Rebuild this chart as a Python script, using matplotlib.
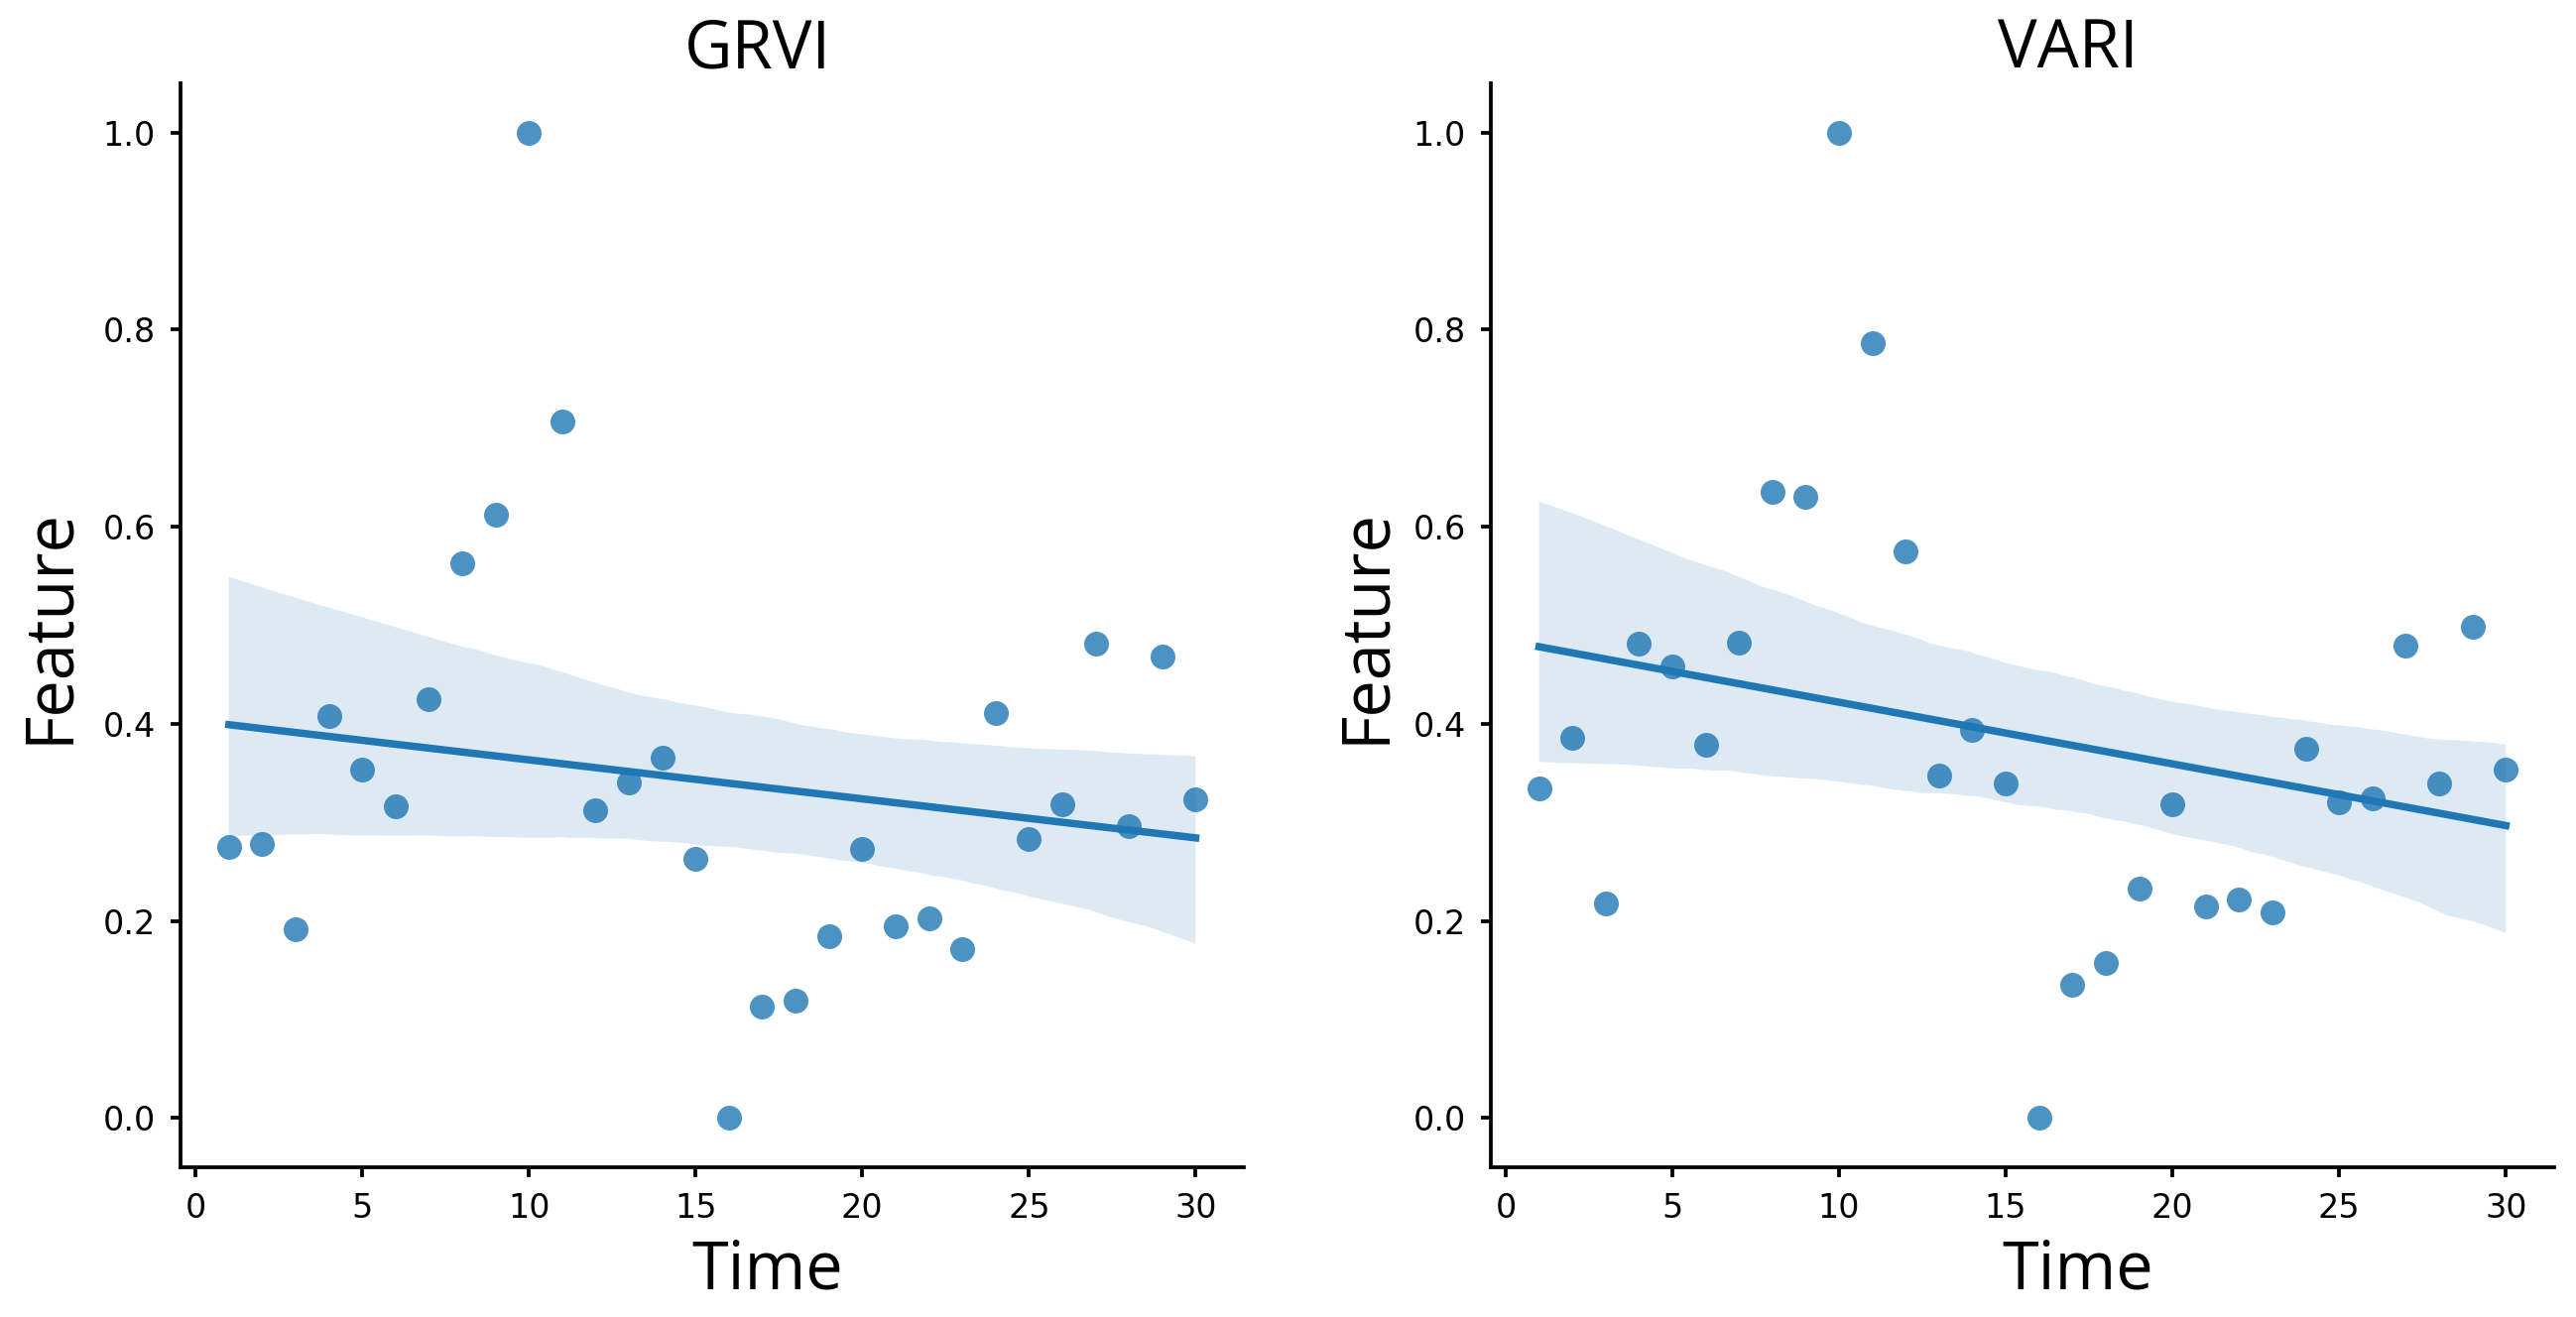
import matplotlib
matplotlib.use("Agg")
import matplotlib.pyplot as plt
import seaborn as sns

# values
time = list(range(1, 31))
grvi = [0.275, 0.278, 0.192, 0.408, 0.354, 0.316, 0.425, 0.563, 0.612, 1.000,
        0.707, 0.312, 0.341, 0.366, 0.263, 0.000, 0.113, 0.119, 0.185, 0.273,
        0.195, 0.203, 0.171, 0.411, 0.283, 0.318, 0.481, 0.296, 0.468, 0.323]
vari = [0.334, 0.386, 0.218, 0.481, 0.458, 0.379, 0.482, 0.635, 0.630, 1.000,
        0.786, 0.575, 0.348, 0.394, 0.340, 0.000, 0.135, 0.157, 0.233, 0.318,
        0.215, 0.222, 0.209, 0.375, 0.320, 0.324, 0.479, 0.340, 0.499, 0.354]
titles = ["GRVI", "VARI"]

plt.rcParams.update({
    "font.family": "DejaVu Sans",
    "axes.linewidth": 0.9,
    "xtick.major.size": 2.5,
    "ytick.major.size": 2.5,
    "xtick.major.width": 0.9,
    "ytick.major.width": 0.9,
    "xtick.labelsize": 8,
    "ytick.labelsize": 8,
    "lines.linewidth": 1.2,
})
label_font = "Open Sans"

fig = plt.figure(figsize=(2597 / 300, 1328 / 300), dpi=300)
ax_l = fig.add_axes([0.0701, 0.1137, 0.4128, 0.8230])
ax_r = fig.add_axes([0.5787, 0.1137, 0.4128, 0.8230])

for ax, vals, name, ylab_x in [(ax_l, grvi, titles[0], -0.106),
                               (ax_r, vari, titles[1], -0.101)]:
    sns.regplot(x=time, y=vals, ax=ax, color="C0", seed=0,
                scatter_kws={"s": 36, "linewidths": 0})
    ax.spines["top"].set_visible(False)
    ax.spines["right"].set_visible(False)
    ax.set_title(name, fontsize=16, family=label_font, pad=2.6, x=0.543)
    ax.set_xlabel("Time", fontsize=16, family=label_font)
    ax.set_ylabel("Feature", fontsize=16, family=label_font)
    ax.xaxis.label.set_va("baseline")
    ax.yaxis.label.set_va("baseline")
    ax.xaxis.set_label_coords(0.552, -0.1125)
    ax.yaxis.set_label_coords(ylab_x, 0.5)

fig.savefig("out.png", dpi=300)
plt.close(fig)
